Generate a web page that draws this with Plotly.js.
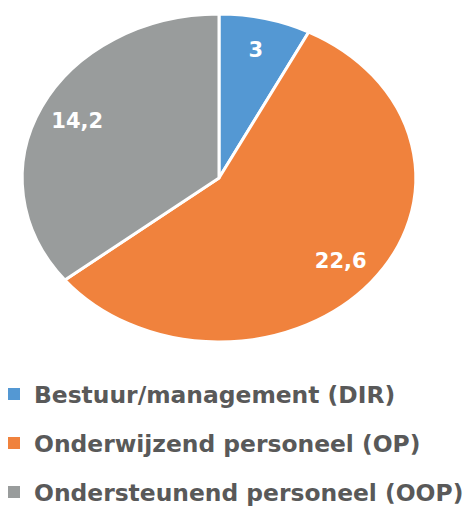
<!DOCTYPE html>
<html><head><meta charset="utf-8">
<script src="https://cdn.plot.ly/plotly-3.0.1.min.js"></script>
<style>html,body{margin:0;padding:0;background:#fff}#chart{width:471px;height:506px}</style>
</head><body><div id="chart"></div>
<script>
const labels = ["Bestuur/management (DIR)", "Onderwijzend personeel (OP)", "Ondersteunend personeel (OOP)"];
const values = [3, 22.6, 14.2];
const colors = ["#5498D3", "#F0823D", "#999C9C"];

const SCALE_X = 1.2;     // the reference pie is an ellipse, wider than tall
const LABEL_R = 0.8;     // data labels sit at 80% of the radius
const LEGEND_X = 14;     // legend swatch centre (px)
const LEGEND_Y0 = 394;   // first legend row centre (px)
const LEGEND_GAP = 49;   // vertical spacing between legend rows

const trace = {
  type: "pie",
  labels: labels,
  values: values,
  sort: false,
  direction: "clockwise",
  rotation: 0,
  marker: {colors: colors, line: {color: "#ffffff", width: 3}},
  textinfo: "value",
  textposition: "inside",
  insidetextorientation: "horizontal",
  textfont: {family: "DejaVu Sans", size: 21, color: "#ffffff", weight: "bold"},
  hoverinfo: "label+value"
};

const layout = {
  width: 471, height: 506,
  margin: {l: 0, r: 33, t: 14, b: 164, autoexpand: false},
  separators: ", ",
  showlegend: true,
  legend: {
    x: 0, xanchor: "left", y: -0.1, yanchor: "top",
    orientation: "v",
    font: {family: "DejaVu Sans", size: 23.4, color: "#595959", weight: "bold"},
    bgcolor: "rgba(0,0,0,0)"
  },
  paper_bgcolor: "#ffffff"
};

Plotly.newPlot("chart", [trace], layout, {displayModeBar: false, staticPlot: true}).then(function (gd) {
  const cd = gd.calcdata[0];
  const cx = cd[0].cx, cy = cd[0].cy, R = cd[0].r;
  const total = values.reduce((a, b) => a + b, 0);
  // stretch slices horizontally into the reference's ellipse
  gd.querySelectorAll(".pielayer .slice").forEach(function (g, i) {
    const p = g.querySelector("path.surface");
    if (p) {
      p.setAttribute("transform", "translate(" + cx + ",0) scale(" + SCALE_X + ",1) translate(" + (-cx) + ",0)");
      p.setAttribute("vector-effect", "non-scaling-stroke");
    }
    const t = g.querySelector("g.slicetext");
    if (t) {
      let before = 0;
      for (let k = 0; k < i; k++) before += values[k];
      const mid = (before + values[i] / 2) / total * 2 * Math.PI;
      const tx = cx + LABEL_R * R * SCALE_X * Math.sin(mid);
      const ty = cy - LABEL_R * R * Math.cos(mid);
      const bb = t.getBBox();
      const dx = tx - (bb.x + bb.width / 2);
      const dy = ty - (bb.y + bb.height / 2);
      t.setAttribute("transform", "translate(" + dx + "," + dy + ")");
    }
  });
  // spread legend rows, enlarge swatches
  const sb = gd.querySelector(".legend .scrollbox");
  if (sb) sb.removeAttribute("clip-path");
  const items = gd.querySelectorAll(".legend .traces");
  items.forEach(function (g, i) {
    const sym = g.querySelector(".legendpoints path");
    const r0 = sym.getBoundingClientRect();
    const s = 12 / Math.max(r0.width, 1);
    const prev = sym.getAttribute("transform") || "";
    sym.setAttribute("transform", prev + " scale(" + s + ")");
    sym.style.strokeWidth = "0px";
    const m = /translate\(\s*([-\d.]+)[ ,]+([-\d.]+)\s*\)/.exec(g.getAttribute("transform") || "");
    const x0 = m ? parseFloat(m[1]) : 0;
    const y0 = m ? parseFloat(m[2]) : 0;
    const r = sym.getBoundingClientRect();
    const dx = LEGEND_X - (r.left + r.width / 2);
    const dy = LEGEND_Y0 + i * LEGEND_GAP - (r.top + r.height / 2);
    g.setAttribute("transform", "translate(" + (x0 + dx) + "," + (y0 + dy) + ")");
  });
});
</script>
</body></html>
